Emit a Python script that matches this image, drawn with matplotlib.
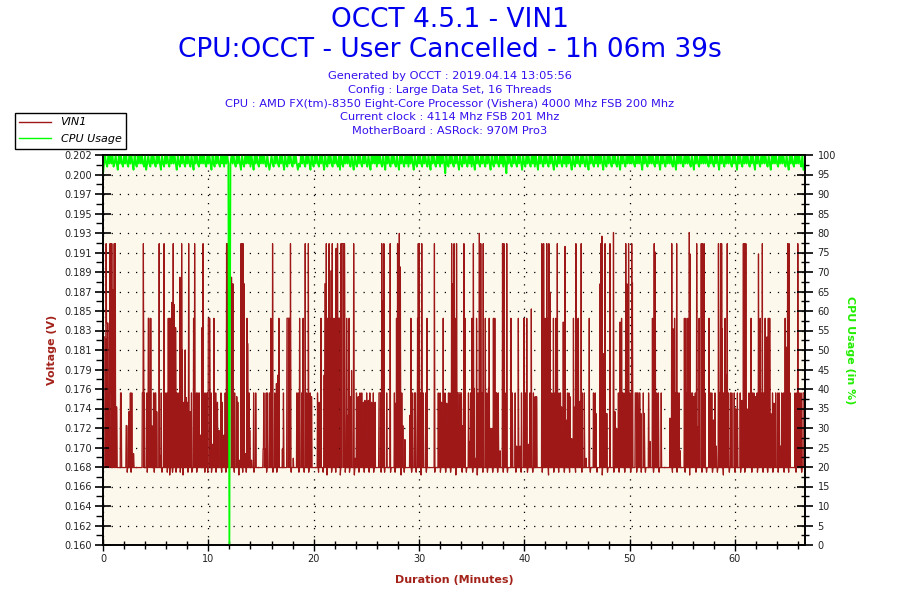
import numpy as np
import matplotlib.pyplot as plt
from matplotlib.ticker import FixedLocator, FixedFormatter, MultipleLocator
from matplotlib.lines import Line2D

title_lines = ["OCCT 4.5.1 - VIN1", "CPU:OCCT - User Cancelled - 1h 06m 39s"]
info_lines = [
    "Generated by OCCT : 2019.04.14 13:05:56",
    "Config : Large Data Set, 16 Threads",
    "CPU : AMD FX(tm)-8350 Eight-Core Processor (Vishera) 4000 Mhz FSB 200 Mhz",
    "Current clock : 4114 Mhz FSB 201 Mhz",
    "MotherBoard : ASRock: 970M Pro3",
]

duration_min = 66.65

# VIN1: sampled every 2 s, sits at the base value between readings below
vin1_samples_per_min = 30
vin1_base = 0.168
# (start minute, end minute, volts)
vin1_spikes = [
    (0.1, 0.25, 0.182), (0.3, 0.3, 0.192), (0.35, 0.45, 0.1835), (0.5, 0.6, 0.176),
    (0.66, 0.66, 0.192), (0.7, 0.72, 0.176), (0.77, 0.77, 0.192), (0.84, 0.84, 0.192),
    (0.9, 0.98, 0.187), (1.0, 1.05, 0.176), (1.08, 1.08, 0.192), (1.12, 1.12, 0.176),
    (1.17, 1.17, 0.192), (1.22, 1.3, 0.1745), (1.65, 1.72, 0.176), (2.2, 2.25, 0.1725),
    (2.45, 2.45, 0.174), (2.6, 2.6, 0.176), (2.75, 2.75, 0.176), (2.9, 2.9, 0.1695),
    (3.75, 3.8, 0.176), (3.83, 3.83, 0.192), (3.86, 3.92, 0.176), (4.15, 4.15, 0.176),
    (4.3, 4.38, 0.184), (4.42, 4.45, 0.176), (4.55, 4.55, 0.184), (4.62, 4.62, 0.1725),
    (4.8, 4.8, 0.176), (4.95, 5.0, 0.176), (5.1, 5.1, 0.174), (5.35, 5.35, 0.192),
    (5.45, 5.45, 0.1693), (5.55, 5.55, 0.176), (5.8, 5.8, 0.192), (5.9, 5.9, 0.176),
    (6.05, 6.05, 0.176), (6.2, 6.2, 0.184), (6.3, 6.3, 0.184), (6.42, 6.42, 0.184),
    (6.52, 6.52, 0.1857), (6.65, 6.65, 0.192), (6.75, 6.75, 0.1855), (6.85, 6.9, 0.183),
    (7.0, 7.0, 0.176), (7.15, 7.15, 0.176), (7.3, 7.3, 0.1884), (7.45, 7.45, 0.192),
    (7.55, 7.55, 0.1806), (7.7, 7.7, 0.175), (7.8, 7.8, 0.1806), (7.9, 7.9, 0.1755),
    (8.0, 8.0, 0.175), (8.15, 8.15, 0.192), (8.25, 8.25, 0.174), (8.4, 8.4, 0.176),
    (8.6, 8.6, 0.184), (8.7, 8.7, 0.192), (8.85, 8.85, 0.176), (9.0, 9.0, 0.176),
    (9.15, 9.15, 0.176), (9.3, 9.3, 0.1715), (9.4, 9.4, 0.183), (9.5, 9.5, 0.192),
    (9.6, 9.6, 0.176), (9.78, 9.78, 0.176), (9.9, 9.9, 0.176), (10.0, 10.15, 0.184),
    (10.25, 10.25, 0.176), (10.4, 10.4, 0.1705), (10.55, 10.55, 0.184), (10.7, 10.7, 0.176),
    (10.85, 10.85, 0.175), (11.0, 11.0, 0.172), (11.2, 11.2, 0.176), (11.3, 11.3, 0.175),
    (11.5, 11.5, 0.1715), (11.6, 11.6, 0.176), (11.75, 11.75, 0.192), (11.85, 11.85, 0.192),
    (11.95, 11.95, 0.1799), (12.2, 12.2, 0.1884), (12.35, 12.35, 0.1877), (12.5, 12.5, 0.176),
    (12.7, 12.7, 0.1756), (12.8, 12.8, 0.175), (12.95, 12.95, 0.1688), (13.1, 13.1, 0.192),
    (13.2, 13.2, 0.192), (13.3, 13.3, 0.192), (13.4, 13.4, 0.1877), (13.5, 13.5, 0.1695),
    (13.65, 13.65, 0.184), (13.75, 13.75, 0.1813), (13.85, 13.85, 0.176), (13.95, 13.95, 0.172),
    (14.1, 14.1, 0.1688), (14.3, 14.3, 0.176), (14.5, 14.5, 0.176), (15.2, 15.4, 0.170),
    (15.25, 15.25, 0.176), (15.5, 15.5, 0.176), (15.6, 15.6, 0.176), (15.8, 15.8, 0.176),
    (15.92, 15.95, 0.184), (16.1, 16.1, 0.192), (16.3, 16.3, 0.176), (16.45, 16.45, 0.177),
    (16.6, 16.6, 0.1779), (16.7, 16.7, 0.184), (17.03, 17.03, 0.170), (17.12, 17.12, 0.176),
    (17.45, 17.75, 0.184), (17.8, 17.8, 0.192), (18.07, 18.07, 0.169), (18.4, 18.4, 0.176),
    (18.55, 18.55, 0.176), (18.67, 18.67, 0.184), (18.86, 18.86, 0.176), (19.0, 19.0, 0.184),
    (19.2, 19.2, 0.192), (19.33, 19.33, 0.176), (19.5, 19.5, 0.192), (19.65, 19.65, 0.176),
    (19.8, 19.8, 0.1756), (20.38, 20.38, 0.176), (20.5, 20.5, 0.175), (20.7, 20.7, 0.184),
    (21.0, 21.0, 0.1779), (21.08, 21.15, 0.1877), (21.2, 21.2, 0.192), (21.33, 21.33, 0.184),
    (21.45, 21.45, 0.192), (21.55, 21.55, 0.184), (21.65, 21.65, 0.1891), (21.77, 21.77, 0.192),
    (21.93, 21.93, 0.184), (22.03, 22.03, 0.176), (22.15, 22.15, 0.1915), (22.28, 22.28, 0.192),
    (22.35, 22.5, 0.184), (22.6, 22.6, 0.192), (22.7, 22.92, 0.192), (22.98, 22.98, 0.1736),
    (23.13, 23.13, 0.184), (23.23, 23.23, 0.1736), (23.36, 23.36, 0.184), (23.48, 23.48, 0.1756),
    (23.6, 23.6, 0.1784), (23.8, 23.8, 0.192), (23.92, 23.92, 0.169), (24.08, 24.08, 0.176),
    (24.24, 24.24, 0.1756), (24.4, 24.4, 0.176), (24.56, 24.56, 0.176), (24.72, 24.72, 0.175),
    (24.87, 24.87, 0.1752), (25.03, 25.03, 0.176), (25.19, 25.19, 0.1752), (25.35, 25.35, 0.176),
    (25.5, 25.5, 0.175), (25.66, 25.66, 0.176), (25.82, 25.82, 0.175), (26.2, 26.36, 0.176),
    (26.46, 26.46, 0.192), (26.52, 26.52, 0.1859), (26.68, 26.68, 0.192), (26.93, 26.93, 0.176),
    (27.25, 27.25, 0.192), (27.66, 27.66, 0.176), (27.79, 27.79, 0.1749), (27.88, 27.88, 0.184),
    (27.98, 27.98, 0.192), (28.13, 28.13, 0.1931), (28.23, 28.23, 0.1895), (28.36, 28.36, 0.176),
    (28.45, 28.45, 0.1725), (28.67, 28.67, 0.171), (29.15, 29.15, 0.1736), (29.24, 29.24, 0.184),
    (29.37, 29.37, 0.176), (29.56, 29.56, 0.176), (29.68, 29.68, 0.176), (29.87, 29.87, 0.184),
    (29.94, 29.94, 0.192), (30.03, 30.03, 0.192), (30.13, 30.13, 0.176), (30.25, 30.25, 0.192),
    (30.41, 30.41, 0.176), (30.63, 30.63, 0.176), (30.76, 30.76, 0.184), (31.46, 31.46, 0.192),
    (31.84, 31.84, 0.176), (32.0, 32.0, 0.176), (32.15, 32.15, 0.175), (32.31, 32.31, 0.184),
    (32.47, 32.47, 0.176), (32.63, 32.63, 0.1749), (32.79, 32.79, 0.176), (32.94, 32.94, 0.176),
    (33.1, 33.1, 0.192), (33.2, 33.2, 0.1877), (33.33, 33.33, 0.192), (33.42, 33.42, 0.184),
    (33.58, 33.58, 0.192), (33.65, 34.05, 0.176), (34.15, 34.15, 0.1725), (34.28, 34.28, 0.192),
    (34.37, 34.37, 0.184), (34.69, 34.69, 0.176), (34.79, 34.79, 0.1708), (34.91, 34.91, 0.176),
    (35.04, 35.04, 0.184), (35.17, 35.17, 0.192), (35.23, 35.23, 0.1765), (35.39, 35.39, 0.169),
    (35.48, 35.48, 0.184), (35.61, 35.61, 0.176), (35.73, 35.73, 0.1931), (35.86, 35.86, 0.192),
    (35.99, 35.99, 0.176), (36.11, 36.11, 0.192), (36.3, 36.3, 0.184), (36.43, 36.43, 0.176),
    (36.59, 36.59, 0.1765), (36.68, 36.68, 0.184), (36.81, 36.81, 0.1722), (36.94, 36.94, 0.1722),
    (37.06, 37.06, 0.184), (37.19, 37.19, 0.184), (37.29, 37.29, 0.176), (37.38, 37.38, 0.176),
    (37.54, 37.54, 0.176), (37.7, 37.7, 0.1698), (37.92, 37.92, 0.192), (38.08, 38.08, 0.192),
    (38.17, 38.17, 0.176), (38.33, 38.33, 0.192), (38.74, 38.74, 0.184), (38.87, 38.87, 0.176),
    (39.12, 39.12, 0.176), (39.28, 39.28, 0.1703), (39.44, 39.44, 0.184), (39.6, 39.6, 0.1703),
    (39.75, 39.75, 0.176), (39.98, 39.98, 0.184), (40.1, 40.1, 0.176), (40.23, 40.23, 0.184),
    (40.39, 40.39, 0.1705), (40.54, 40.54, 0.176), (40.67, 40.67, 0.185), (40.86, 40.86, 0.176),
    (41.02, 41.02, 0.1756), (41.18, 41.18, 0.1756), (41.65, 41.65, 0.192), (41.84, 41.84, 0.192),
    (41.97, 41.97, 0.184), (42.13, 42.13, 0.192), (42.22, 42.22, 0.184), (42.35, 42.35, 0.192),
    (42.44, 42.44, 0.1868), (42.6, 42.6, 0.176), (42.76, 42.76, 0.184), (42.89, 42.89, 0.176),
    (43.01, 43.01, 0.184), (43.14, 43.14, 0.192), (43.3, 43.3, 0.176), (43.42, 43.42, 0.176),
    (43.55, 43.55, 0.1745), (43.71, 43.71, 0.1836), (43.87, 43.87, 0.1917), (43.96, 43.96, 0.1731),
    (44.09, 44.09, 0.176), (44.22, 44.22, 0.176), (44.34, 44.34, 0.1756), (44.5, 44.5, 0.1711),
    (44.66, 44.66, 0.184), (44.79, 44.79, 0.1745), (44.91, 44.91, 0.192), (44.98, 44.98, 0.184),
    (45.13, 45.13, 0.184), (45.29, 45.29, 0.1751), (45.39, 45.39, 0.192), (45.51, 45.51, 0.176),
    (45.7, 45.7, 0.176), (45.86, 45.86, 0.169), (46.18, 46.18, 0.184), (46.56, 46.56, 0.176),
    (46.72, 46.72, 0.176), (46.81, 46.81, 0.1738), (47.19, 47.19, 0.1877), (47.28, 47.28, 0.192),
    (47.38, 47.38, 0.1928), (47.5, 47.5, 0.1802), (47.66, 47.66, 0.192), (47.82, 47.82, 0.1738),
    (48.14, 48.14, 0.192), (48.45, 48.45, 0.1932), (48.61, 48.61, 0.174), (48.77, 48.77, 0.1722),
    (48.93, 48.93, 0.176), (49.09, 49.09, 0.1836), (49.22, 49.22, 0.184), (49.34, 49.34, 0.176),
    (49.47, 49.47, 0.176), (49.63, 49.63, 0.192), (49.73, 49.73, 0.1877), (49.89, 49.89, 0.192),
    (50.04, 50.04, 0.176), (50.2, 50.2, 0.192), (50.27, 50.27, 0.1878), (50.52, 50.62, 0.176),
    (50.72, 50.78, 0.176), (50.9, 50.98, 0.176), (51.06, 51.06, 0.1738), (51.31, 51.31, 0.176),
    (51.41, 51.41, 0.1738), (51.79, 51.79, 0.176), (51.94, 51.94, 0.1708), (52.16, 52.16, 0.184),
    (52.32, 52.32, 0.192), (52.42, 52.42, 0.1911), (52.58, 52.58, 0.176), (52.73, 52.73, 0.176),
    (52.99, 52.99, 0.176), (53.84, 53.84, 0.1733), (54.0, 54.0, 0.192), (54.1, 54.1, 0.1829),
    (54.25, 54.25, 0.184), (54.38, 54.38, 0.176), (54.47, 54.47, 0.192), (54.57, 54.57, 0.176),
    (54.7, 54.7, 0.176), (54.79, 54.79, 0.1698), (55.2, 55.2, 0.184), (55.33, 55.33, 0.184),
    (55.42, 55.42, 0.176), (55.52, 55.52, 0.184), (55.65, 55.65, 0.1932), (55.74, 55.74, 0.1909),
    (55.84, 55.84, 0.176), (55.96, 55.96, 0.176), (56.09, 56.09, 0.1756), (56.22, 56.22, 0.176),
    (56.37, 56.37, 0.192), (56.47, 56.47, 0.1724), (56.6, 56.6, 0.184), (56.79, 56.79, 0.192),
    (56.91, 56.91, 0.192), (57.07, 57.07, 0.192), (57.16, 57.16, 0.176), (57.54, 57.54, 0.184),
    (57.67, 57.67, 0.176), (57.8, 57.8, 0.176), (57.96, 57.96, 0.1731), (58.11, 58.11, 0.176),
    (58.24, 58.24, 0.1703), (58.43, 58.43, 0.192), (58.49, 58.49, 0.176), (58.62, 58.62, 0.192),
    (58.75, 58.75, 0.192), (58.81, 58.81, 0.1829), (58.94, 58.94, 0.176), (59.06, 59.06, 0.184),
    (59.16, 59.16, 0.1779), (59.25, 59.25, 0.192), (59.38, 59.38, 0.176), (59.57, 59.57, 0.176),
    (59.7, 59.7, 0.176), (59.95, 59.95, 0.176), (60.08, 60.08, 0.1743), (60.23, 60.23, 0.176),
    (60.49, 60.49, 0.176), (60.65, 60.65, 0.1752), (60.8, 60.8, 0.192), (60.9, 60.9, 0.192),
    (61.03, 61.03, 0.192), (61.15, 61.15, 0.1743), (61.34, 61.34, 0.176), (61.53, 61.53, 0.184),
    (61.66, 61.66, 0.176), (61.79, 61.79, 0.176), (61.97, 61.97, 0.1756), (62.1, 62.1, 0.176),
    (62.23, 62.23, 0.1909), (62.39, 62.39, 0.184), (62.48, 62.48, 0.176), (62.61, 62.61, 0.192),
    (62.73, 62.73, 0.176), (62.86, 62.86, 0.184), (63.02, 63.02, 0.182), (63.18, 63.18, 0.184),
    (63.3, 63.3, 0.184), (63.4, 63.4, 0.1738), (63.56, 63.56, 0.176), (63.71, 63.71, 0.1749),
    (63.87, 63.87, 0.176), (64.06, 64.06, 0.176), (64.19, 64.19, 0.176), (64.32, 64.32, 0.1703),
    (64.44, 64.44, 0.176), (64.6, 64.6, 0.176), (64.76, 64.76, 0.184), (64.89, 64.89, 0.1809),
    (65.01, 65.01, 0.192), (65.14, 65.14, 0.192), (65.23, 65.23, 0.176), (65.71, 65.71, 0.176),
    (65.87, 65.87, 0.176), (65.96, 65.96, 0.192), (66.09, 66.09, 0.176), (66.28, 66.28, 0.176),
    (66.45, 66.6, 0.176),
]
# short readings just under the base line (minute, volts)
vin1_dips = [
    (0.45, 0.1675), (0.6, 0.1672), (0.9, 0.1675), (1.15, 0.1672), (1.3, 0.1675),
    (2.3, 0.1675), (2.65, 0.1675), (4.2, 0.1675), (4.85, 0.1675), (5.6, 0.1675),
    (6.1, 0.1675), (6.35, 0.1672), (6.6, 0.1675), (6.95, 0.1675), (7.35, 0.1675),
    (7.6, 0.1672), (8.05, 0.1675), (8.45, 0.1675), (8.9, 0.1675), (9.65, 0.1675),
    (9.95, 0.1675), (10.3, 0.1675), (10.75, 0.1675), (11.25, 0.1675), (11.65, 0.1675),
    (12.45, 0.1675), (12.9, 0.1672), (13.25, 0.1675), (13.6, 0.1675), (14.35, 0.1675),
    (15.3, 0.1675), (15.55, 0.1675), (16.15, 0.1675), (16.5, 0.1675), (17.15, 0.1675),
    (17.55, 0.1672), (17.85, 0.1675), (18.6, 0.1675), (19.1, 0.1675), (19.55, 0.1675),
    (20.45, 0.1675), (20.9, 0.1675), (21.25, 0.1672), (21.7, 0.1675), (22.1, 0.1675),
    (22.55, 0.1672), (23.0, 0.1675), (23.4, 0.1675), (23.85, 0.1672), (24.3, 0.1675),
    (24.8, 0.1675), (25.25, 0.1675), (25.7, 0.1675), (26.4, 0.1675), (26.75, 0.1675),
    (27.3, 0.1675), (27.75, 0.1675), (28.3, 0.1672), (28.6, 0.1675), (29.3, 0.1675),
    (29.75, 0.1675), (30.2, 0.1672), (30.7, 0.1675), (31.5, 0.1675), (32.05, 0.1675),
    (32.55, 0.1675), (33.0, 0.1675), (33.5, 0.1672), (34.1, 0.1675), (34.5, 0.1675),
    (35.1, 0.1675), (35.55, 0.1672), (36.05, 0.1675), (36.5, 0.1675), (37.0, 0.1675),
    (37.45, 0.1675), (38.0, 0.1675), (38.4, 0.1675), (39.2, 0.1675), (39.7, 0.1675),
    (40.3, 0.1675), (40.8, 0.1675), (41.7, 0.1675), (42.3, 0.1672), (42.8, 0.1675),
    (43.25, 0.1675), (43.8, 0.1675), (44.3, 0.1675), (44.85, 0.1675), (45.45, 0.1675),
    (46.25, 0.1675), (46.9, 0.1675), (47.4, 0.1672), (47.9, 0.1675), (48.5, 0.1675),
    (49.0, 0.1675), (49.55, 0.1675), (50.1, 0.1675), (50.65, 0.1675), (51.1, 0.1675),
    (51.5, 0.1675), (52.25, 0.1675), (52.8, 0.1675), (54.05, 0.1675), (54.5, 0.1675),
    (55.25, 0.1675), (55.7, 0.1672), (56.3, 0.1675), (56.85, 0.1675), (57.3, 0.1675),
    (57.85, 0.1675), (58.35, 0.1675), (58.9, 0.1672), (59.45, 0.1675), (60.0, 0.1675),
    (60.55, 0.1675), (60.95, 0.1675), (61.6, 0.1675), (62.15, 0.1675), (62.65, 0.1675),
    (63.1, 0.1675), (63.6, 0.1675), (64.1, 0.1675), (64.65, 0.1675), (65.1, 0.1675),
    (65.8, 0.1675), (66.35, 0.1675),
]

# CPU usage, one character every 0.1 min (z = 0 %)
cpu_step_min = 0.1
cpu_codes = {"0": 100, "9": 97.8, "8": 97.0, "7": 96.2, "6": 95.3, "5": 94.5, "z": 0}
cpu_trace = (
    "6909809090" "8909709098" "0909809097" "0980909098" "0790980909"
    "8090970980" "9098090909" "7098090980" "9098097090" "9809090980"
    "9097098090" "9809080909" "z909098090" "9709809090" "8097090980"
    "9090980979" "0980909809" "0970980909" "8090979809" "0980909709"
    "8090980909" "7098090980" "9098070980" "9090980970" "9809098090"
    "9809709090" "8090980970" "9098090980" "9709098090" "8090970980"
    "9098090980" "9709098090" "8090960980" "9098090970" "9809098090"
    "8097090980" "9098090970" "9809098090" "8096090980" "9098090970"
    "9809098090" "8097090980" "9098090970" "9809098090" "8090970980"
    "9098090980" "9709098090" "8090970980" "9098090980" "9709098090"
    "9090980909" "0970909809" "0909809097" "0909809090" "9809709090"
    "9809090980" "9709098090" "9090980909" "8090970909" "8090909809"
    "0970909809" "0909809097" "0909809090" "9809709090" "9809090980"
    "9709098090" "9098077"
)

volt_tick_labels = ["0.160", "0.162", "0.164", "0.166", "0.168", "0.170", "0.172",
                    "0.174", "0.176", "0.179", "0.181", "0.183", "0.185", "0.187",
                    "0.189", "0.191", "0.193", "0.195", "0.197", "0.200", "0.202"]
cpu_ticks = list(range(0, 101, 5))

RED = "#9e1818"
GREEN = "#00ff00"
BLUE = "#0000ee"

# build the series
n_vin = int(duration_min * vin1_samples_per_min)
vin_t = np.arange(n_vin) / vin1_samples_per_min
vin_v = np.full(n_vin, vin1_base)
for m, v in vin1_dips:
    vin_v[int(round(m * vin1_samples_per_min))] = v
for t0, t1, v in vin1_spikes:
    i0 = int(round(t0 * vin1_samples_per_min))
    i1 = int(round(t1 * vin1_samples_per_min))
    vin_v[i0:i1 + 1] = v

cpu_v = np.array([cpu_codes[c] for c in cpu_trace], dtype=float)
cpu_t = np.arange(len(cpu_v)) * cpu_step_min

fig = plt.figure(figsize=(9, 6), dpi=100)
ax = fig.add_axes([103 / 900, 55 / 600, 702 / 900, 390 / 600])
ax.set_facecolor("#fdf8ec")

vlo, vhi = 0.1597, 0.2015
ax.set_xlim(0, duration_min)
ax.set_ylim(vlo, vhi)

vticks = np.linspace(vlo, vhi, 21)
ax.yaxis.set_major_locator(FixedLocator(vticks))
ax.yaxis.set_major_formatter(FixedFormatter(volt_tick_labels))
ax.yaxis.set_minor_locator(FixedLocator((vticks[:-1] + vticks[1:]) / 2))
ax.xaxis.set_major_locator(MultipleLocator(10))
ax.xaxis.set_minor_locator(MultipleLocator(2))

ax.grid(True, which="major", color="black", linestyle=(0, (1, 5.5)), linewidth=0.9)

ax.fill_between(vin_t, vin1_base, vin_v, color=RED, linewidth=0)
ax.plot(vin_t, vin_v, color=RED, linewidth=0.9)

ax2 = ax.twinx()
ax2.set_ylim(0, 100)
ax2.set_yticks(cpu_ticks)
ax2.yaxis.set_minor_locator(MultipleLocator(2.5))
ax2.plot(cpu_t, cpu_v, color=GREEN, linewidth=1.3)

for a in (ax, ax2):
    for s in a.spines.values():
        s.set_color("black")
        s.set_linewidth(1.2)
ax.tick_params(axis="x", which="major", direction="inout", length=9, width=1,
               labelsize=7, pad=2, colors="black", labelcolor="#222222")
ax.tick_params(axis="x", which="minor", direction="inout", length=6, width=1)
ax.tick_params(axis="y", which="major", direction="inout", length=12, width=1.2,
               labelsize=7, pad=2, labelcolor="#222222")
ax.tick_params(axis="y", which="minor", direction="out", length=5, width=1)
ax2.tick_params(axis="y", which="major", direction="inout", length=12, width=1.2,
                labelsize=7, pad=3, labelcolor="#222222")
ax2.tick_params(axis="y", which="minor", direction="inout", length=6, width=1)

ax.set_xlabel("Duration (Minutes)", color="#a3231b", fontsize=8, fontweight="bold", labelpad=8)
ax.set_ylabel("Voltage (V)", color="#a3231b", fontsize=8, fontweight="bold", labelpad=5)
ax2.set_ylabel("CPU Usage (in %)", color="#22ee00", fontsize=8, fontweight="bold",
               rotation=270, labelpad=14)

fig.text(0.5, 1 - 20 / 600, title_lines[0], ha="center", va="center", fontsize=19, color=BLUE)
fig.text(0.5, 1 - 50 / 600, title_lines[1], ha="center", va="center", fontsize=19, color=BLUE)
for i, line in enumerate(info_lines):
    fig.text(0.5, 1 - (76 + i * 13.8) / 600, line, ha="center", va="center",
             fontsize=8.2, color="#3311ee")

handles = [Line2D([], [], color=RED, linewidth=1), Line2D([], [], color=GREEN, linewidth=1)]
leg = fig.legend(handles, ["VIN1", "CPU Usage"], loc="upper left",
                 bbox_to_anchor=(15 / 900, 1 - 113 / 600),
                 prop={"style": "italic", "size": 8}, frameon=True, fancybox=False,
                 framealpha=1, edgecolor="black", borderpad=0.4, labelspacing=0.6,
                 handlelength=2.8, handletextpad=0.9, borderaxespad=0)
leg.get_frame().set_linewidth(1)
leg.set_zorder(10)

fig.savefig("out.png", dpi=100, facecolor="white")
